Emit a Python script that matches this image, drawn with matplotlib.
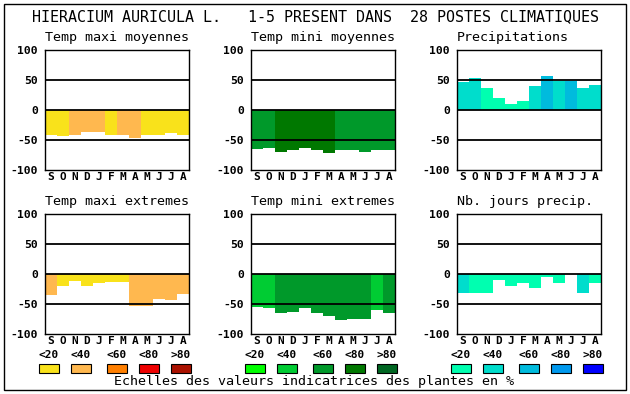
import matplotlib
matplotlib.use("Agg")
import matplotlib.pyplot as plt
from matplotlib.patches import Rectangle

months = ['S', 'O', 'N', 'D', 'J', 'F', 'M', 'A', 'M', 'J', 'J', 'A']
scale_labels = ['<20', '<40', '<60', '<80', '>80']

# colour scales (class 0..4)
temp_max_colors = ['#F9E21B', '#FFB84F', '#FF7F00', '#EE0000', '#AA1100']
temp_min_colors = ['#00FF00', '#00CC33', '#00992A', '#007800', '#006622']
precip_colors = ['#00FFB0', '#00DDCC', '#00BBDD', '#0099EE', '#0000FF']

# values (%) and colour class per month
tmax_moy = [-41, -44, -41, -36, -37, -41, -41, -47, -42, -42, -38, -42]
tmax_moy_cls = [0, 0, 1, 1, 1, 0, 1, 1, 0, 0, 0, 0]
tmin_moy = [-65, -64, -70, -66, -64, -67, -72, -67, -66, -70, -66, -67]
tmin_moy_cls = [2, 2, 3, 3, 3, 3, 3, 2, 2, 2, 2, 2]
precip = [46, 54, 36, 20, 10, 15, 40, 57, 49, 49, 37, 42]
precip_cls = [1, 1, 0, 0, 0, 0, 1, 2, 1, 2, 1, 1]
tmax_ext = [-35, -20, -12, -20, -15, -14, -14, -54, -54, -42, -44, -34]
tmax_ext_cls = [1, 0, 0, 0, 0, 0, 0, 1, 1, 1, 1, 1]
tmin_ext = [-55, -57, -65, -64, -57, -65, -70, -77, -75, -75, -60, -65]
tmin_ext_cls = [1, 1, 2, 2, 2, 2, 2, 2, 2, 2, 1, 2]
jours = [-32, -32, -32, -10, -20, -15, -24, -5, -15, 0, -31, -15]
jours_cls = [1, 0, 0, 0, 0, 0, 0, 0, 0, 0, 1, 0]

W, H = 630, 394
plt.rcParams['font.family'] = 'DejaVu Sans Mono'

fig = plt.figure(figsize=(W / 100, H / 100), dpi=100)


def fx(px):
    return px / W


def fy(py):
    return 1 - py / H


def add_panel(left, top, title, values, classes, palette):
    ax = fig.add_axes([fx(left), fy(top + 120), fx(144), 120 / H])
    x = list(range(len(months)))
    ax.bar(x, values, width=1.0, color=[palette[c] for c in classes],
           linewidth=0, zorder=1)
    for yv in (50, 0, -50):
        ax.axhline(yv, color='black', lw=1.3, zorder=3)
    ax.set_xlim(-0.5, 11.5)
    ax.set_ylim(-100, 100)
    ax.set_yticks([100, 50, 0, -50, -100])
    ax.set_yticklabels(['100', '50', '0', '-50', '-100'],
                       fontsize=8.2, fontweight='bold')
    ax.tick_params(length=0, pad=5, axis='y')
    ax.set_xticks([])
    # month initials just under each bar
    for i, m in enumerate(months):
        ax.text(i, -7 / 120, m, transform=ax.get_xaxis_transform(),
                ha='center', va='center', fontsize=8, fontweight='bold')
    for s in ax.spines.values():
        s.set_linewidth(1.0)
    fig.text(fx(left), fy(top - 12), title, fontsize=9.6,
             ha='left', va='center')
    return ax


add_panel(45, 50, 'Temp maxi moyennes', tmax_moy, tmax_moy_cls, temp_max_colors)
add_panel(251, 50, 'Temp mini moyennes', tmin_moy, tmin_moy_cls, temp_min_colors)
add_panel(457, 50, 'Precipitations', precip, precip_cls, precip_colors)
add_panel(45, 214, 'Temp maxi extremes', tmax_ext, tmax_ext_cls, temp_max_colors)
add_panel(251, 214, 'Temp mini extremes', tmin_ext, tmin_ext_cls, temp_min_colors)
add_panel(457, 214, 'Nb. jours precip.', jours, jours_cls, precip_colors)

# legend scales under each column
box_offsets = [-6, 26, 62, 94, 126]
for left, palette in ((45, temp_max_colors), (251, temp_min_colors), (457, precip_colors)):
    for off, col, lab in zip(box_offsets, palette, scale_labels):
        fig.patches.append(Rectangle((fx(left + off), fy(373)), fx(20), 9 / H,
                                     facecolor=col, edgecolor='black', lw=0.8,
                                     transform=fig.transFigure))
        fig.text(fx(left + off + 10), fy(355), lab, fontsize=8,
                 fontweight='bold', ha='center', va='center')

fig.text(0.5, fy(17), 'HIERACIUM AURICULA L.   1-5 PRESENT DANS  28 POSTES CLIMATIQUES',
         fontsize=10.8, ha='center', va='center')
fig.text(fx(314), fy(382), 'Echelles des valeurs indicatrices des plantes en %',
         fontsize=9.6, ha='center', va='center')

# outer frame
fig.patches.append(Rectangle((fx(4), fy(390)), fx(622), 386 / H, fill=False,
                             edgecolor='black', lw=1.0, transform=fig.transFigure))

fig.savefig('out.png', dpi=100)
